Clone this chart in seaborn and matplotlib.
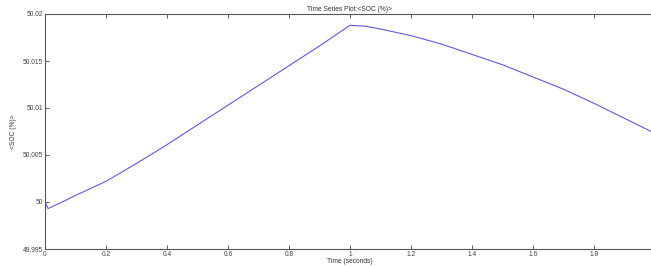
import pandas as pd
import matplotlib
matplotlib.use("Agg")
import matplotlib.pyplot as plt
from matplotlib.ticker import FuncFormatter
import seaborn as sns

sns.set_theme(style="white")
plt.rcParams['font.family'] = ['Liberation Sans', 'DejaVu Sans']

# SOC values
time_s = [0.0, 0.01, 0.05, 0.1, 0.2, 0.3, 0.4, 0.5, 0.6, 0.7, 0.8, 0.9, 1.0,
          1.05, 1.1, 1.2, 1.3, 1.4, 1.5, 1.6, 1.7, 1.8, 1.9, 2.0]
soc = [50.0, 49.9993, 49.9999, 50.0007, 50.0022, 50.0041, 50.0061, 50.0082,
       50.0103, 50.0124, 50.0145, 50.0166, 50.0188,
       50.0187, 50.0184, 50.0177, 50.0168, 50.0157, 50.0146, 50.0133,
       50.0120, 50.0105, 50.0089, 50.0073]
xticks = [0, 0.2, 0.4, 0.6, 0.8, 1, 1.2, 1.4, 1.6, 1.8]
yticks = [49.995, 50, 50.005, 50.01, 50.015, 50.02]

df = pd.DataFrame({"Time (seconds)": time_s, "<SOC (%)>": soc})

fig = plt.figure(figsize=(6.51, 2.66), dpi=100)
ax = fig.add_axes([45 / 651, 17 / 266, 610 / 651, 235 / 266])
sns.lineplot(data=df, x="Time (seconds)", y="<SOC (%)>", ax=ax,
             color="#5c5cd6", linewidth=0.8)

ax.set_xlim(0, 2)
ax.set_ylim(49.995, 50.02)
ax.set_xticks(xticks)
ax.set_yticks(yticks)
ax.xaxis.set_major_formatter(FuncFormatter(lambda v, p: "%g" % v))
ax.yaxis.set_major_formatter(FuncFormatter(lambda v, p: "%g" % round(v, 4)))
ax.tick_params(direction="in", length=3, width=0.6, labelsize=4.8,
               colors="#444444", top=True, bottom=True, left=True, right=False,
               pad=1.5)
for s in ax.spines.values():
    s.set_color("#555555")
    s.set_linewidth(0.8)

ax.set_title("Time Series Plot:<SOC (%)>", fontsize=4.8, color="#333333", pad=2)
ax.set_xlabel("Time (seconds)", fontsize=4.8, color="#333333", labelpad=0)
ax.set_ylabel("<SOC (%)>", fontsize=4.8, color="#333333", labelpad=4)

fig.savefig("out.png", dpi=100)
